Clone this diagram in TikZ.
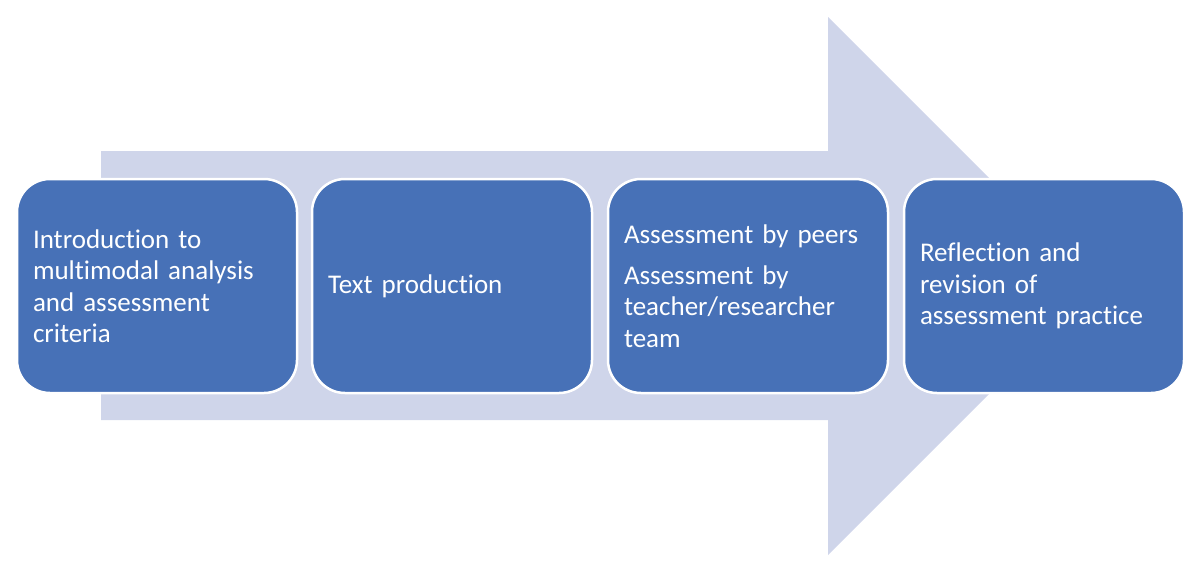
\documentclass[tikz,border=0pt]{standalone}
\usepackage{fontspec}
\setmainfont[Ligatures=NoCommon]{Carlito}
\definecolor{boxblue}{HTML}{4771B7}
\definecolor{arrowgray}{HTML}{CFD5EA}
\begin{document}
\begin{tikzpicture}[x=1pt,y=-1pt,
  stepbox/.style={draw=white, line width=2.5pt, fill=boxblue, rounded corners=33pt,
    minimum width=280pt, minimum height=214pt, text width=248pt, align=left,
    text=white, inner sep=0pt, font=\fontsize{27}{31.5}\selectfont}]
\useasboundingbox (0,0) rectangle (1200,573);
\fill[arrowgray] (101,151) -- (828,151) -- (828,17) -- (1097,286) -- (828,555) -- (828,420) -- (101,420) -- cycle;
\node[stepbox] (s1) at (157,286) {Introduction to\\multimodal analysis\\and assessment\\criteria};
\node[stepbox] (s2) at (452,286) {Text production};
\node[stepbox] (s3) at (748,286) {Assessment by peers\\[9pt]Assessment by\\teacher/researcher\\team};
\node[stepbox] (s4) at (1044,286) {Reflection and\\revision of\\assessment practice};
\end{tikzpicture}
\end{document}
